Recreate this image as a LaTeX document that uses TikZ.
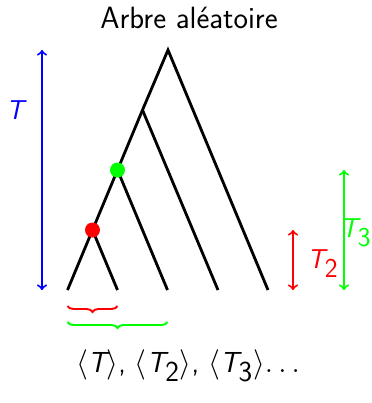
\documentclass[tikz,border=0pt]{standalone}
\usetikzlibrary{decorations.pathreplacing}
\begin{document}
\begin{tikzpicture}[x=0.02cm,y=-0.02cm,
  branch/.style={line width=1.6pt},
  dimarrow/.style={line width=1.1pt,<->},
  lbl/.style={font=\fontsize{15.5}{19}\selectfont\sffamily,inner sep=0pt},
  titlelbl/.style={font=\fontsize{17.5}{21}\selectfont\sffamily,inner sep=0pt},
  dot/.style={circle,inner sep=0pt,minimum size=0.3cm},
  bracestyle/.style={line width=1.1pt,decorate,decoration={brace,mirror,amplitude=0.12cm}}]
\useasboundingbox (0,0) rectangle (372,403);
% tree points
\coordinate (r) at (168,50);
\coordinate (n3) at (142.5,110);
\coordinate (n2) at (117.5,170);
\coordinate (n1) at (92.5,230);
\coordinate (l1) at (67.5,290);
\coordinate (l2) at (117.5,290);
\coordinate (l3) at (167.5,290);
\coordinate (l4) at (218,290);
\coordinate (l5) at (268,290);
\draw[branch] (l1) -- (n1) -- (n2) -- (n3) -- (r) -- (l5);
\draw[branch] (n1) -- (l2);
\draw[branch] (n2) -- (l3);
\draw[branch] (n3) -- (l4);
\node[dot,fill=green] (g) at (n2) {};
\node[dot,fill=red] (rd) at (n1) {};
% title
\node[titlelbl,anchor=base] (title) at (189,28) {Arbre aléatoire};
% blue arrow
\coordinate (bt) at (42,50);
\coordinate (bb) at (42,290);
\draw[dimarrow,blue] (bt) -- (bb);
\node[lbl,anchor=base,blue] (tl) at (15,119) {\slshape T};
% red arrow
\coordinate (rt) at (293,230);
\coordinate (rb) at (293,290);
\draw[dimarrow,red] (rt) -- (rb);
\node[lbl,anchor=base west,red] (t2) at (307,268) {{\slshape T}$_{\textsf{2}}$};
% green arrow
\coordinate (gt) at (344,170);
\coordinate (gb) at (344,290);
\draw[dimarrow,green] (gt) -- (gb);
\node[lbl,anchor=base west,green] (t3) at (340,237) {{\slshape T}$_{\textsf{3}}$};
% braces
\coordinate (b1a) at (67.5,306);
\coordinate (b1b) at (117.5,306);
\draw[bracestyle,red] (b1a) -- (b1b);
\coordinate (b2a) at (67.5,322);
\coordinate (b2b) at (167.5,322);
\draw[bracestyle,green] (b2a) -- (b2b);
% bottom text
\node[titlelbl,font=\fontsize{16.5}{20}\selectfont\sffamily,anchor=base] (bottom) at (188,372) {$\langle${\slshape T}$\rangle$, $\langle${\slshape T}$_{\textsf{2}}\rangle$, $\langle${\slshape T}$_{\textsf{3}}\rangle$$\ldots$};
\end{tikzpicture}
\end{document}
